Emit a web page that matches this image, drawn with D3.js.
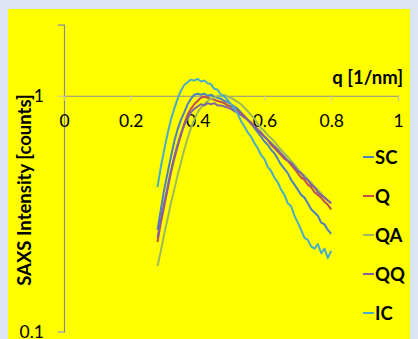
<!DOCTYPE html>
<html>
<head>
<meta charset="utf-8">
<script src="https://cdn.jsdelivr.net/npm/d3@7"></script>
<style>
  body { margin: 0; background: #dce6f2; }
  #c { width: 418px; height: 339px; }
  text { font-family: Lato, "Open Sans", sans-serif; }
</style>
</head>
<body>
<div id="c"></div>
<script>
"use strict";

const qValues = [0.28,0.29,0.30,0.31,0.32,0.33,0.34,0.35,0.36,0.37,0.38,0.39,0.40,0.41,0.42,0.43,0.44,0.45,0.46,0.47,
    0.48,0.49,0.50,0.51,0.52,0.53,0.54,0.55,0.56,0.57,0.58,0.59,0.60,0.61,0.62,0.63,0.64,0.65,0.66,0.67,
    0.68,0.69,0.70,0.71,0.72,0.73,0.74,0.75,0.76,0.77,0.78,0.79,0.80]

const scValues = [0.27,0.33,0.40,0.47,0.55,0.64,0.72,0.79,0.85,0.92,0.97,1.01,1.02,1.01,1.02,1.00,1.01,0.99,0.98,0.97,
    0.95,0.94,0.92,0.90,0.88,0.85,0.82,0.79,0.77,0.73,0.70,0.67,0.64,0.62,0.59,0.57,0.54,0.51,0.49,0.47,
    0.44,0.42,0.40,0.38,0.37,0.35,0.33,0.32,0.31,0.29,0.285,0.27,0.26]

const qSeries = [0.24,0.29,0.34,0.40,0.47,0.54,0.61,0.68,0.76,0.83,0.88,0.92,0.95,0.98,0.99,0.98,0.97,0.96,0.95,0.94,
    0.93,0.91,0.90,0.88,0.86,0.84,0.82,0.79,0.77,0.74,0.72,0.69,0.67,0.65,0.62,0.60,0.58,0.56,0.54,0.53,
    0.51,0.49,0.47,0.45,0.44,0.42,0.41,0.39,0.38,0.37,0.355,0.345,0.33]

const qaValues = [0.19,0.22,0.26,0.30,0.35,0.40,0.46,0.52,0.59,0.66,0.73,0.79,0.85,0.89,0.92,0.95,0.97,0.98,1.00,0.99,
    1.01,0.99,0.98,0.96,0.94,0.92,0.89,0.86,0.83,0.80,0.76,0.73,0.71,0.68,0.66,0.64,0.61,0.59,0.57,0.55,
    0.53,0.51,0.49,0.47,0.46,0.44,0.43,0.41,0.40,0.385,0.37,0.36,0.35]

const qqValues = [0.25,0.30,0.35,0.41,0.48,0.55,0.62,0.69,0.75,0.80,0.85,0.88,0.90,0.92,0.91,0.93,0.92,0.93,0.91,0.91,
    0.90,0.89,0.88,0.86,0.85,0.83,0.81,0.79,0.76,0.74,0.72,0.70,0.67,0.65,0.63,0.61,0.59,0.57,0.55,0.53,
    0.52,0.50,0.48,0.47,0.45,0.44,0.42,0.41,0.39,0.38,0.37,0.36,0.35]

const icValues = [0.41,0.50,0.59,0.69,0.79,0.88,0.97,1.05,1.11,1.14,1.17,1.16,1.18,1.15,1.16,1.13,1.12,1.07,1.06,1.01,
    0.99,0.96,0.92,0.88,0.84,0.78,0.74,0.70,0.67,0.63,0.60,0.56,0.54,0.50,0.48,0.45,0.43,0.40,0.38,0.35,
    0.34,0.31,0.29,0.27,0.25,0.245,0.23,0.225,0.235,0.215,0.225,0.205,0.22]

const seriesNames = ["SC", "Q", "QA", "QQ", "IC"]
const seriesColors = ["#4f81bd", "#c0504d", "#9bbb59", "#8064a2", "#4bacc6"]
const seriesValues = [scValues, qSeries, qaValues, qqValues, icValues]

const xTicks = [0, 0.2, 0.4, 0.6, 0.8, 1]
const yTicks = [0.1, 1]

const axisColor = "#8a8a9e"

window.onload = function() {
    let svg = d3.select('#c').append('svg')
        .attr('width', 418)
        .attr('height', 339)

    // yellow chart area
    svg.append('rect')
        .attr('x', 8).attr('y', 9)
        .attr('width', 402).attr('height', 340)
        .attr('fill', '#ffff00')

    let xScale = d3.scaleLinear().domain([0, 1]).range([64, 398])
    let yScale = d3.scaleLog().domain([0.1, 2]).range([331.7, 24.7])

    // y axis
    let yAxis = svg.append('g')
        .attr('transform', 'translate(64,0)')
        .call(d3.axisLeft(yScale).tickValues(yTicks).tickSize(6).tickPadding(14)
            .tickFormat(d3.format("")))
    yAxis.select('.domain').attr('stroke', axisColor).attr('stroke-width', 1.2)
    yAxis.selectAll('.tick line').attr('stroke', '#c8c8b0')
    yAxis.selectAll('.tick text')
        .style('font-size', '17.5px').attr('fill', '#000')

    // x axis crossing at 1
    let xAxis = svg.append('g')
        .attr('transform', 'translate(0,' + yScale(1) + ')')
        .call(d3.axisBottom(xScale).tickValues(xTicks).tickSize(5).tickPadding(14)
            .tickFormat(d3.format("")))
    xAxis.select('.domain').attr('stroke', axisColor).attr('stroke-width', 1.2)
    xAxis.selectAll('.tick line').attr('stroke', '#c8c8b0')
    xAxis.selectAll('.tick text')
        .style('font-size', '17.5px').attr('fill', '#000')

    // curves
    let line = d3.line()
        .x((d, i) => xScale(qValues[i]))
        .y(d => yScale(d))
    seriesValues.forEach((vals, k) => {
        svg.append('path')
            .datum(vals)
            .attr('fill', 'none')
            .attr('stroke', seriesColors[k])
            .attr('stroke-width', 2)
            .attr('stroke-linejoin', 'round')
            .attr('d', line)
    })

    // axis titles
    svg.append('text')
        .text('q [1/nm]')
        .attr('x', 403).attr('y', 84)
        .attr('text-anchor', 'end')
        .style('font-size', '18.5px').style('font-weight', 'bold')

    svg.append('text')
        .text('SAXS Intensity [counts]')
        .attr('transform', 'translate(31,190) rotate(-90)')
        .attr('text-anchor', 'middle')
        .style('font-size', '18.5px').style('font-weight', 'bold')

    // legend
    let legend = svg.append('g')
    seriesNames.forEach((name, i) => {
        let y = 157 + i * 39
        legend.append('line')
            .attr('x1', 363).attr('x2', 374)
            .attr('y1', y).attr('y2', y)
            .attr('stroke', seriesColors[i])
            .attr('stroke-width', 2)
        legend.append('text')
            .text(name)
            .attr('x', 375).attr('y', y)
            .attr('dy', '0.36em')
            .style('font-size', '18.5px').style('font-weight', 'bold')
    })
}
</script>
</body>
</html>
